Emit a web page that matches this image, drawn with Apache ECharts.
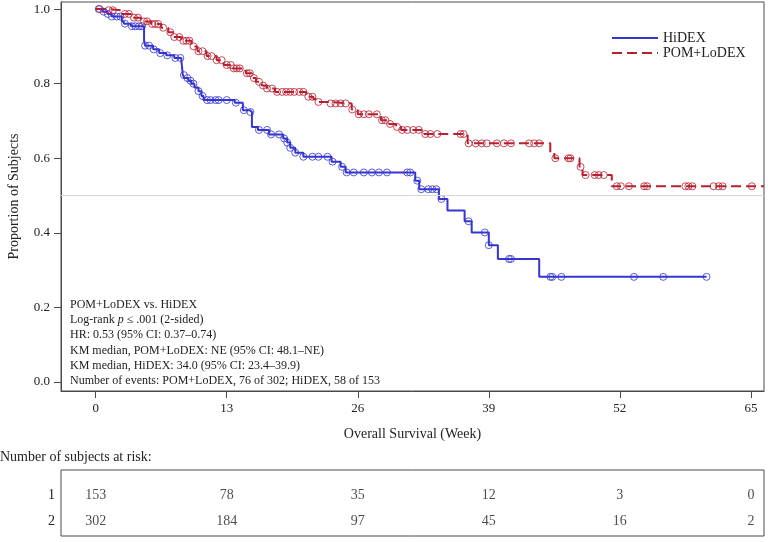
<!DOCTYPE html>
<html>
<head>
<meta charset="utf-8">
<title>Overall Survival</title>
<script src="https://cdn.jsdelivr.net/npm/echarts@6/dist/echarts.min.js"></script>
<style>
  html, body { margin: 0; padding: 0; background: #fff; }
  #chart { width: 768px; height: 542px; }
</style>
</head>
<body>
<div id="chart"></div>
<script>
// KM step values (week, proportion after the drop)
const hidexTimes = [0, 0.7, 1.2, 1.6, 2.6, 2.8, 3.5, 4.8, 4.9, 5.7, 6.3, 7.0, 7.8, 8.5, 8.65, 8.8, 9.2, 9.5, 9.8, 10.2, 10.5, 10.7, 13.8, 14.6, 15.3, 15.5, 16.1, 17.2, 18.6, 19.0, 19.3, 19.8, 20.6, 23.4, 24.3, 24.8, 31.7, 32.1, 34.05, 34.9, 36.6, 37.3, 39.0, 39.9, 44.0, 60.6];
const hidexSurv = [1.0, 0.993, 0.987, 0.980, 0.967, 0.961, 0.954, 0.915, 0.902, 0.892, 0.882, 0.876, 0.869, 0.862, 0.823, 0.815, 0.808, 0.800, 0.790, 0.780, 0.767, 0.756, 0.749, 0.729, 0.724, 0.684, 0.676, 0.664, 0.653, 0.642, 0.628, 0.615, 0.604, 0.591, 0.577, 0.562, 0.540, 0.517, 0.491, 0.460, 0.431, 0.401, 0.367, 0.330, 0.282, 0.282];
const hidexCensor = [0.3, 0.8, 1.2, 1.6, 2.1, 2.45, 2.9, 3.6, 3.95, 4.3, 4.6, 4.9, 5.3, 5.75, 6.4, 7.1, 7.9, 8.4, 8.75, 9.1, 9.4, 9.7, 10.2, 10.6, 11.05, 11.4, 11.9, 12.2, 13.0, 13.9, 14.7, 15.35, 16.2, 17.0, 17.4, 18.2, 18.7, 19.0, 19.3, 19.8, 20.6, 21.5, 22.1, 23.0, 23.5, 24.45, 24.9, 25.6, 26.6, 27.4, 28.1, 28.9, 30.9, 31.2, 31.9, 32.3, 33.0, 33.4, 33.8, 34.3, 37.0, 38.6, 39.0, 41.0, 41.2, 45.1, 45.3, 46.2, 53.4, 56.3, 60.6];

const pomTimes = [0, 1.2, 2.5, 3.5, 4.5, 5.5, 6.5, 7.2, 7.7, 8.5, 9.5, 10.1, 11.0, 12.0, 12.7, 13.6, 14.9, 15.5, 15.9, 16.5, 17.0, 17.8, 20.9, 21.6, 22.1, 23.0, 25.4, 26.0, 28.3, 29.0, 29.8, 30.3, 32.6, 36.9, 45.1, 45.5, 48.0, 48.3, 51.2, 66.3];
const pomSurv = [1.0, 0.997, 0.987, 0.977, 0.967, 0.960, 0.950, 0.938, 0.925, 0.915, 0.900, 0.887, 0.874, 0.863, 0.850, 0.841, 0.828, 0.815, 0.805, 0.795, 0.787, 0.778, 0.765, 0.758, 0.751, 0.747, 0.731, 0.718, 0.702, 0.692, 0.684, 0.676, 0.665, 0.640, 0.617, 0.600, 0.577, 0.555, 0.525, 0.525];
const pomCensor = [0.4, 1.3, 1.7, 2.9, 3.3, 3.8, 4.2, 4.8, 5.1, 5.6, 5.9, 6.2, 6.7, 7.4, 7.8, 8.3, 8.7, 9.0, 9.3, 9.7, 10.2, 10.6, 11.1, 11.5, 12.0, 12.5, 13.0, 13.4, 13.7, 14.0, 14.3, 15.0, 15.3, 15.7, 16.2, 16.6, 17.0, 17.5, 18.0, 18.5, 18.9, 19.3, 19.7, 20.2, 20.6, 21.1, 21.5, 22.1, 23.3, 23.8, 24.3, 24.8, 25.45, 26.1, 26.6, 27.1, 27.9, 28.4, 28.75, 29.2, 29.9, 30.4, 30.9, 31.5, 32.05, 32.7, 33.2, 33.9, 36.2, 36.5, 37.0, 37.7, 38.3, 38.8, 39.8, 40.5, 41.2, 43.0, 43.5, 44.0, 45.6, 46.9, 47.1, 48.1, 48.6, 49.5, 49.9, 50.4, 51.7, 52.1, 52.9, 54.4, 54.7, 58.5, 58.8, 59.2, 61.3, 61.8, 62.2, 65.1];

// axis ticks and the at-risk table
const weekTicks = [0, 13, 26, 39, 52, 65];
const propTicks = [0, 0.2, 0.4, 0.6, 0.8, 1.0];
const hidexAtRisk = [153, 78, 35, 12, 3, 0];
const pomAtRisk = [302, 184, 97, 45, 16, 2];

const statLines = [
  'POM+LoDEX vs. HiDEX',
  'Log-rank {i|p} \u2264 .001 (2-sided)',
  'HR: 0.53 (95% CI: 0.37\u20130.74)',
  'KM median, POM+LoDEX: NE (95% CI: 48.1\u2013NE)',
  'KM median, HiDEX: 34.0 (95% CI: 23.4\u201339.9)',
  'Number of events: POM+LoDEX, 76 of 302; HiDEX, 58 of 153'
];

const FONT = '"Liberation Serif", "DejaVu Serif", serif';
const BLUE = '#3535d2';
const RED = '#b81f31';
const AXIS = '#4a4a4a';
const X_MIN = -3.44, X_MAX = 66.3;

// curve value at a censoring time
function survAt (times, surv, t) {
  let s = surv[0];
  for (let i = 0; i < times.length; i++) {
    if (times[i] <= t) s = surv[i];
  }
  return s;
}

const hidexLine = hidexTimes.map((t, i) => [t, hidexSurv[i]]);
const pomLine = pomTimes.map((t, i) => [t, pomSurv[i]]);
const hidexMarks = hidexCensor.map(t => [t, survAt(hidexTimes, hidexSurv, t)]);
const pomMarks = pomCensor.map(t => [t, survAt(pomTimes, pomSurv, t)]);

const tableData = [];
weekTicks.forEach((w, i) => {
  tableData.push([w, 1, hidexAtRisk[i]]);
  tableData.push([w, 2, pomAtRisk[i]]);
});

const chart = echarts.init(document.getElementById('chart'));
const option = {
  backgroundColor: '#fff',
  animation: false,
  textStyle: { fontFamily: FONT },
  grid: [
    { left: 61, right: 4, top: 2, bottom: 151, show: true, borderColor: AXIS, borderWidth: 1, containLabel: false, outerBoundsMode: 'none' },
    { left: 61, right: 4, top: 470, bottom: 6, show: true, borderColor: AXIS, borderWidth: 1, containLabel: false, outerBoundsMode: 'none' }
  ],
  legend: {
    data: ['HiDEX', 'POM+LoDEX'],
    orient: 'vertical',
    left: 606,
    top: 26,
    itemWidth: 46,
    itemHeight: 14,
    itemGap: 1,
    itemStyle: { color: 'rgba(0,0,0,0)', borderColor: 'rgba(0,0,0,0)', borderWidth: 0 },
    textStyle: { fontFamily: FONT, fontSize: 14, color: '#222' }
  },
  xAxis: [
    {
      type: 'value', gridIndex: 0, min: X_MIN, max: X_MAX,
      name: 'Overall Survival (Week)', nameLocation: 'middle', nameGap: 36,
      nameTextStyle: { fontFamily: FONT, fontSize: 14, color: '#222' },
      axisLine: { show: true, onZero: false, lineStyle: { color: AXIS } },
      axisTick: { show: true, inside: false, length: 7, customValues: weekTicks, lineStyle: { color: AXIS } },
      axisLabel: { customValues: weekTicks, margin: 11, fontFamily: FONT, fontSize: 13, color: '#222' },
      splitLine: { show: false }
    },
    {
      type: 'value', gridIndex: 1, min: X_MIN, max: X_MAX, show: false
    }
  ],
  yAxis: [
    {
      type: 'value', gridIndex: 0, min: -0.024, max: 1.019,
      name: 'Proportion of Subjects', nameLocation: 'middle', nameGap: 40,
      nameTextStyle: { fontFamily: FONT, fontSize: 14, color: '#222' },
      axisLine: { show: true, onZero: false, lineStyle: { color: AXIS } },
      axisTick: { show: true, inside: false, length: 7, customValues: propTicks, lineStyle: { color: AXIS } },
      axisLabel: { customValues: propTicks, margin: 11, fontFamily: FONT, fontSize: 13, color: '#222', formatter: v => v.toFixed(1) },
      splitLine: { show: false }
    },
    {
      type: 'value', gridIndex: 1, min: 0.04, max: 2.58, inverse: true,
      axisLine: { show: false, onZero: false },
      axisTick: { show: false },
      axisLabel: { customValues: [1, 2], margin: 6, fontFamily: FONT, fontSize: 14, color: '#222' },
      splitLine: { show: false }
    }
  ],
  graphic: [
    {
      type: 'text', left: 70, top: 297,
      style: {
        text: statLines.join('\n'),
        fontFamily: FONT, fontSize: 12, lineHeight: 15.3, fill: '#222',
        rich: { i: { fontStyle: 'italic', fontFamily: FONT, fontSize: 12 } }
      }
    },
    {
      type: 'text', left: 0, top: 450,
      style: { text: 'Number of subjects at risk:', fontFamily: FONT, fontSize: 14, fill: '#222' }
    }
  ],
  series: [
    {
      name: 'HiDEX', type: 'line', step: 'end', showSymbol: false, symbol: 'none',
      xAxisIndex: 0, yAxisIndex: 0,
      data: hidexLine,
      itemStyle: { color: BLUE },
      lineStyle: { color: BLUE, width: 2 },
      markLine: {
        silent: true, symbol: 'none', label: { show: false },
        lineStyle: { color: '#d4d4d4', width: 1, type: 'solid' },
        data: [{ yAxis: 0.5 }]
      },
      z: 3
    },
    {
      name: 'POM+LoDEX', type: 'line', step: 'end', showSymbol: false, symbol: 'none',
      xAxisIndex: 0, yAxisIndex: 0,
      data: pomLine,
      itemStyle: { color: RED },
      lineStyle: { color: RED, width: 2, type: [10, 5] },
      z: 3
    },
    {
      name: 'HiDEX censored', type: 'scatter', xAxisIndex: 0, yAxisIndex: 0,
      symbol: 'circle', symbolSize: 7, data: hidexMarks,
      itemStyle: { color: 'rgba(255,255,255,0)', borderColor: BLUE, borderWidth: 1 },
      z: 4
    },
    {
      name: 'POM+LoDEX censored', type: 'scatter', xAxisIndex: 0, yAxisIndex: 0,
      symbol: 'circle', symbolSize: 7, data: pomMarks,
      itemStyle: { color: 'rgba(255,255,255,0)', borderColor: RED, borderWidth: 1 },
      z: 4
    },
    {
      // number at risk, placed on the same week scale
      name: 'at risk', type: 'scatter', xAxisIndex: 1, yAxisIndex: 1,
      symbolSize: 0, data: tableData,
      label: {
        show: true, position: 'inside',
        fontFamily: FONT, fontSize: 14, color: '#222',
        formatter: p => String(p.value[2])
      }
    }
  ]
};
chart.setOption(option);
</script>
</body>
</html>
